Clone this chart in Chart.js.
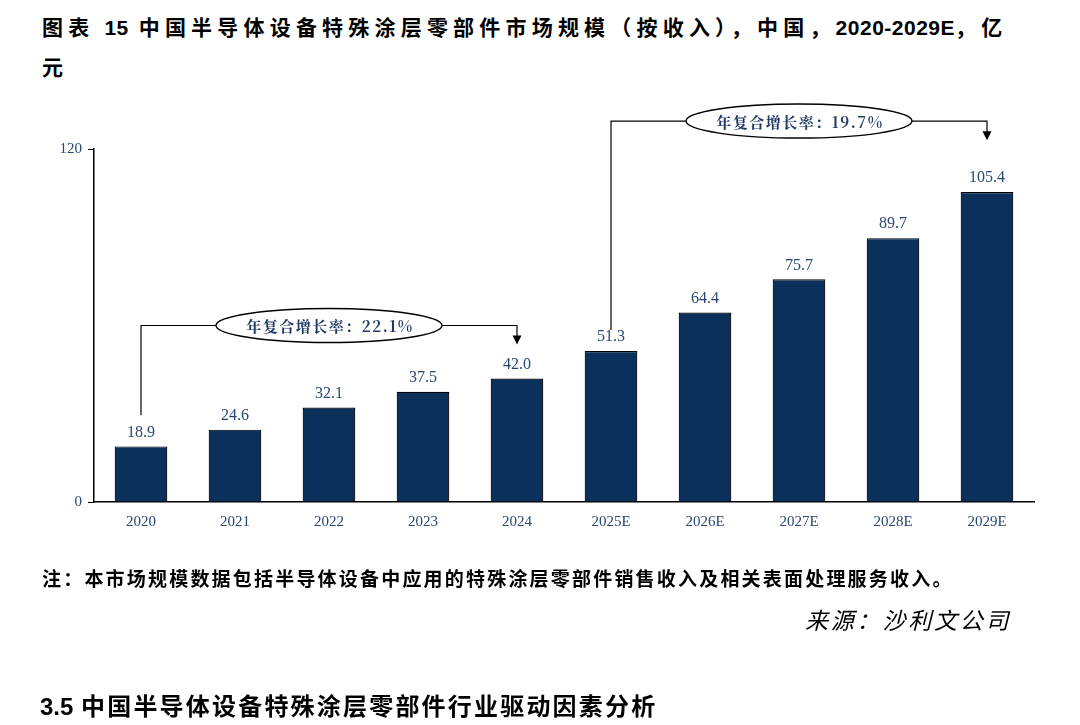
<!DOCTYPE html>
<html lang="zh">
<head>
<meta charset="UTF-8">
<title>中国半导体设备特殊涂层零部件市场规模</title>
<script src="https://cdn.jsdelivr.net/npm/chart.js@4.4.1/dist/chart.umd.min.js"></script>
<style>
    body { margin: 0; background: #fff; width: 1080px; height: 725px; position: relative; overflow: hidden; }
    .title { position: absolute; left: 42px; top: 7px; width: 1030px; font: bold 21px "Noto Sans CJK SC", "Liberation Sans", sans-serif; line-height: 38px; letter-spacing: 5.2px; color: #000; }
    .title b { font-family: "Liberation Sans", Arial, sans-serif; letter-spacing: 0.5px; }
    .note { position: absolute; left: 42px; top: 564px; font: bold 19px "Noto Sans CJK SC", sans-serif; letter-spacing: 2.2px; color: #000; }
    .source { position: absolute; left: 805px; top: 602px; font: italic 23px "Noto Sans CJK SC", serif; color: #000; letter-spacing: 2.8px; }
    .section { position: absolute; left: 40px; top: 687px; font: bold 24px "Noto Sans CJK SC", sans-serif; letter-spacing: 2.2px; color: #000; }
    .section b { font-family: "Liberation Sans", Arial, sans-serif; letter-spacing: 0; }
    #wrap { position: absolute; left: 0; top: 0; width: 1080px; height: 725px; }
</style>
</head>
<body>
<div class="title">图表 <b>15</b> 中国半导体设备特殊涂层零部件市场规模（按收入），中国，<b>2020-2029E</b>，亿<br>元</div>
<div id="wrap"><canvas id="chart"></canvas></div>
<div class="note">注：本市场规模数据包括半导体设备中应用的特殊涂层零部件销售收入及相关表面处理服务收入。</div>
<div class="source">来源：沙利文公司</div>
<div class="section"><b>3.5</b> 中国半导体设备特殊涂层零部件行业驱动因素分析</div>
<script>
const years = ['2020', '2021', '2022', '2023', '2024', '2025E', '2026E', '2027E', '2028E', '2029E'];
const marketSize = [18.9, 24.6, 32.1, 37.5, 42.0, 51.3, 64.4, 75.7, 89.7, 105.4];
const yTicks = [0, 120];
const cagrNotes = [
    { from: 0, to: 4, text: '年复合增长率：22.1%' },
    { from: 5, to: 9, text: '年复合增长率：19.7%' }
];
// bracket levels in axis units
const cagrLevels = [
    { start: 29.5, top: 60, tip: 53.5 },
    { start: 58.5, top: 129.5, tip: 123 }
];

const navy = '#0b305c';
const labelBlue = '#2a4674';

const valueLabels = {
    id: 'valueLabels',
    afterDatasetsDraw(chart) {
        const ctx = chart.ctx;
        const meta = chart.getDatasetMeta(0);
        ctx.save();
        ctx.font = '16px "Liberation Serif", serif';
        ctx.fillStyle = labelBlue;
        ctx.textAlign = 'center';
        ctx.textBaseline = 'bottom';
        meta.data.forEach((bar, i) => {
            ctx.fillText(marketSize[i].toFixed(1), bar.x, bar.y - 6);
        });
        ctx.restore();
    }
};

const cagrBrackets = {
    id: 'cagrBrackets',
    afterDraw(chart) {
        const ctx = chart.ctx;
        const x = chart.scales.x, y = chart.scales.y;
        ctx.save();
        cagrNotes.forEach((n, k) => {
            const lv = cagrLevels[k];
            const x1 = x.getPixelForValue(n.from);
            const x2 = x.getPixelForValue(n.to);
            const ys = y.getPixelForValue(lv.start);
            const yt = y.getPixelForValue(lv.top);
            const ya = y.getPixelForValue(lv.tip);
            ctx.strokeStyle = '#000';
            ctx.lineWidth = 1.2;
            ctx.beginPath();
            ctx.moveTo(x1, ys);
            ctx.lineTo(x1, yt);
            ctx.lineTo(x2, yt);
            ctx.lineTo(x2, ya - 8);
            ctx.stroke();
            ctx.fillStyle = '#000';
            ctx.beginPath();
            ctx.moveTo(x2 - 4.5, ya - 9);
            ctx.lineTo(x2 + 4.5, ya - 9);
            ctx.lineTo(x2, ya);
            ctx.closePath();
            ctx.fill();
            // ellipse
            const cx = (x1 + x2) / 2;
            ctx.beginPath();
            ctx.ellipse(cx, yt, 113, 17, 0, 0, Math.PI * 2);
            ctx.fillStyle = '#fff';
            ctx.fill();
            ctx.lineWidth = 1.4;
            ctx.stroke();
            ctx.fillStyle = '#1f3864';
            ctx.font = 'bold 15px "Noto Serif CJK SC", "Liberation Serif", serif';
            ctx.letterSpacing = '1.5px';
            ctx.textAlign = 'center';
            ctx.textBaseline = 'middle';
            ctx.fillText(n.text, cx + 1, yt + 1);
            ctx.letterSpacing = '0px';
        });
        ctx.restore();
    }
};

new Chart(document.getElementById('chart'), {
    type: 'bar',
    data: {
        labels: years,
        datasets: [{
            data: marketSize,
            backgroundColor: navy,
            borderColor: '#000',
            borderWidth: 1.2,
            categoryPercentage: 1,
            barPercentage: 0.56
        }]
    },
    options: {
        responsive: true,
        maintainAspectRatio: false,
        animation: false,
        layout: { padding: { left: 0, right: 46, top: 149, bottom: 0 } },
        plugins: { legend: { display: false }, tooltip: { enabled: false } },
        scales: {
            x: {
                afterFit(s) { s.height = 223; },
                grid: { display: false },
                border: { display: true, color: '#000', width: 1.5 },
                ticks: { color: labelBlue, padding: 3, font: { family: '"Liberation Serif", serif', size: 15 } }
            },
            y: {
                min: 0,
                max: 120,
                afterFit(s) { s.width = 94; },
                afterBuildTicks(s) { s.ticks = yTicks.map(v => ({ value: v })); },
                grid: { drawOnChartArea: false, drawTicks: true, tickLength: 6, color: '#000' },
                border: { display: true, color: '#000', width: 1.5 },
                ticks: { color: labelBlue, padding: 6, font: { family: '"Liberation Serif", serif', size: 15 } }
            }
        }
    },
    plugins: [valueLabels, cagrBrackets]
});
</script>
</body>
</html>
